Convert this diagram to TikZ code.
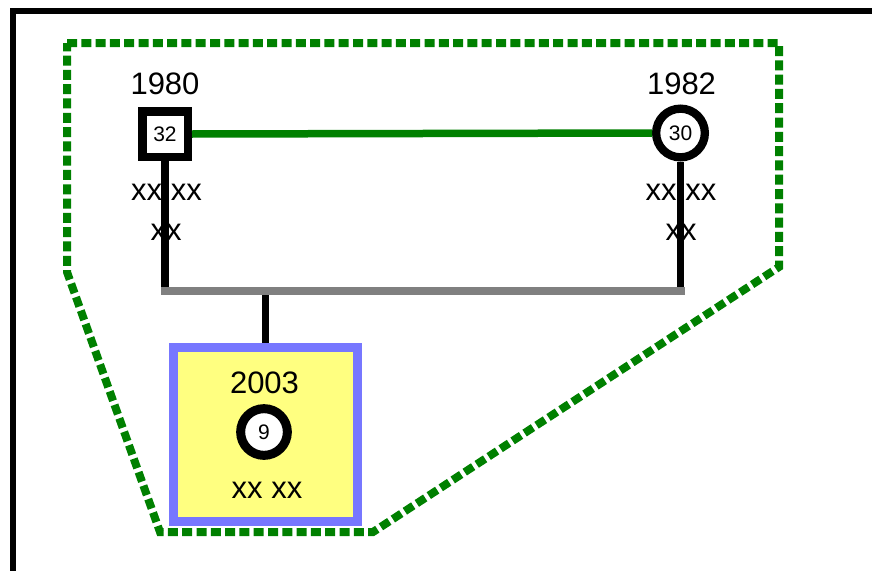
\documentclass[tikz,border=0pt]{standalone}
\usepackage{fontspec}
\setmainfont{Liberation Sans}
\definecolor{pgreen}{RGB}{0,128,0}
\definecolor{pblue}{RGB}{119,119,255}
\definecolor{pyellow}{RGB}{255,255,128}
\definecolor{pgray}{RGB}{128,128,128}
\begin{document}
\begin{tikzpicture}[x=1pt,y=-1pt,
  lbl/.style={font=\fontsize{31}{31}\selectfont, inner sep=0, anchor=base},
  num/.style={font=\fontsize{21}{21}\selectfont},
  male/.style={draw, line width=8.5pt, rectangle, minimum size=45.5pt, inner sep=0, fill=white, num},
  female/.style={draw, line width=8.3pt, circle, minimum size=48.7pt, inner sep=0, fill=white, num},
  childbox/.style={draw=pblue, line width=9pt, fill=pyellow, rectangle, minimum width=184pt, minimum height=174pt, inner sep=0},
  frameline/.style={line width=6pt, draw=black},
  group/.style={draw=pgreen, line width=8pt, dash pattern=on 10pt off 4.3pt, line join=miter},
  marriage/.style={draw=pgreen, line width=7.5pt},
  descent/.style={draw=black, line width=7.3pt},
  sibship/.style={draw=pgray, line width=7.8pt}
]
\useasboundingbox (0,0) rectangle (872,570);
% frame
\draw[frameline] (13,590) -- (13,11) -- (892,11);
% group outline
\draw[group] (67,43) -- (779,43) -- (779,267) -- (373,532) -- (160,532) -- (67,272) -- cycle;
% parents
\node[male] (m) at (165,134) {32};
\node[female] (f) at (680.5,133) {30};
\node[lbl] (myr) at (165,94) {1980};
\node[lbl] (fyr) at (681.5,94) {1982};
\node[lbl] (mt1) at (166.5,200) {xx xx};
\node[lbl] (mt2) at (166,240) {xx};
\node[lbl] (ft1) at (681,200) {xx xx};
\node[lbl] (ft2) at (681,240) {xx};
% child
\node[childbox] (cb) at (265.5,434.5) {};
\node[lbl] (cyr) at (264.5,393) {2003};
\node[female, line width=9pt, minimum size=46.7pt] (c) at (264,432) {9};
\node[lbl] (ct) at (267,498) {xx xx};
% connectors
\coordinate (sl) at (161,291);
\coordinate (sr) at (685,291);
\draw[marriage] (m.east) -- (f.west);
\draw[descent] (m.south) -- (m.south |- sl);
\draw[descent] (f.south) -- (f.south |- sr);
\draw[descent] (cb.north |- sl) -- (cb.north);
\draw[sibship] (sl) -- (sr);
\end{tikzpicture}
\end{document}
